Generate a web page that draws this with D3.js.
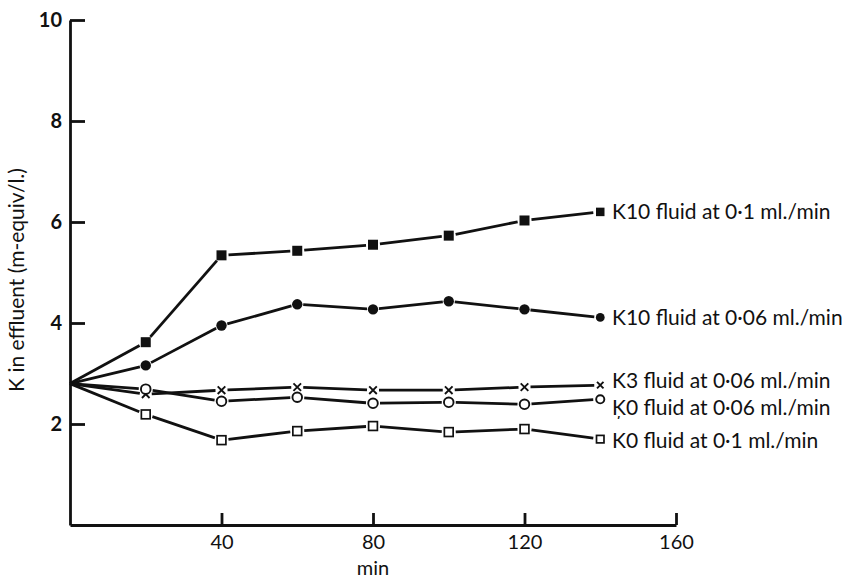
<!DOCTYPE html>
<html><head><meta charset="utf-8">
<script src="https://cdn.jsdelivr.net/npm/d3@7"></script>
<style>
body{margin:0;background:#fff;}
svg{display:block;}
text{font-family:Lato,"Open Sans",sans-serif;fill:#111;}
</style></head>
<body>
<svg id="c" width="850" height="579"></svg>
<script>
const times = [0, 20, 40, 60, 80, 100, 120, 140];
const k10Fast = [2.8, 3.62, 5.34, 5.43, 5.55, 5.73, 6.03, 6.2];
const k10Slow = [2.8, 3.16, 3.95, 4.37, 4.27, 4.43, 4.27, 4.11];
const k3Slow  = [2.8, 2.59, 2.67, 2.73, 2.67, 2.67, 2.73, 2.77];
const k0Slow  = [2.8, 2.69, 2.45, 2.53, 2.41, 2.43, 2.39, 2.49];
const k0Fast  = [2.8, 2.19, 1.68, 1.86, 1.96, 1.84, 1.90, 1.70];
const seriesNames = ["K10 fluid at 0·1 ml./min","K10 fluid at 0·06 ml./min","K3 fluid at 0·06 ml./min","K̦0 fluid at 0·06 ml./min","K0 fluid at 0·1 ml./min"];
const xTicks = [40, 80, 120, 160];
const yTicks = [2, 4, 6, 8, 10];

const series = [
  {name: seriesNames[0], values: k10Fast, marker: "fsquare", labelDy: 0},
  {name: seriesNames[1], values: k10Slow, marker: "fcircle", labelDy: 0},
  {name: seriesNames[2], values: k3Slow,  marker: "cross",   labelDy: -4},
  {name: seriesNames[3], values: k0Slow,  marker: "ocircle", labelDy: 8},
  {name: seriesNames[4], values: k0Fast,  marker: "osquare", labelDy: 1}
];

const svg = d3.select("#c");
const x = d3.scaleLinear().domain([0,160]).range([70,676]);
const y = d3.scaleLinear().domain([0,10]).range([525,20]);

// axes
const gy = svg.append("g").attr("transform","translate(70,0)")
  .call(d3.axisLeft(y).tickValues(yTicks).tickSize(-15).tickSizeOuter(0).tickPadding(8));
gy.selectAll("text").style("font-size","20px").style("font-weight","700").style("font-family","Lato, sans-serif");
const gx = svg.append("g").attr("transform","translate(0,525)")
  .call(d3.axisBottom(x).tickValues(xTicks).tickSize(-12).tickSizeOuter(0).tickPadding(10));
gx.selectAll("text").style("font-size","20px").style("font-family","Lato, sans-serif").attr("dy","0.72em");
[gx, gy].forEach(g=>{
  g.select(".domain").attr("stroke","#111").attr("stroke-width",2.8);
  g.selectAll(".tick line").attr("stroke","#111").attr("stroke-width",2.8);
  g.selectAll("text").attr("fill","#111");
});

svg.append("text").attr("transform","translate(24,280) rotate(-90)")
  .attr("text-anchor","middle").style("font-size","21px").text("K in effluent (m-equiv/l.)");
svg.append("text").attr("x",373).attr("y",575).attr("text-anchor","middle")
  .style("font-size","20px").text("min");

// lines with gaps near markers
const gap = {fsquare:7, fcircle:6, cross:6, ocircle:7, osquare:7};
series.forEach(s=>{
  const pts = times.map((t,i)=>[x(t), y(s.values[i])]);
  const g = svg.append("g");
  for (let i=0;i<pts.length-1;i++){
    const [x1,y1]=pts[i],[x2,y2]=pts[i+1];
    const dx=x2-x1, dy=y2-y1, L=Math.hypot(dx,dy);
    const g1 = i===0 ? 0 : gap[s.marker], g2 = gap[s.marker];
    g.append("line")
      .attr("x1", x1+dx*g1/L).attr("y1", y1+dy*g1/L)
      .attr("x2", x2-dx*g2/L).attr("y2", y2-dy*g2/L)
      .attr("stroke","#111").attr("stroke-width",2.8);
  }
  pts.slice(1).forEach(([px,py],j)=>{
    const last = j===pts.length-2;
    const sc = last ? 0.85 : 1;
    if (s.marker==="fsquare"){
      const h=5*sc; g.append("rect").attr("x",px-h).attr("y",py-h).attr("width",2*h).attr("height",2*h).attr("fill","#111");
    } else if (s.marker==="fcircle"){
      g.append("circle").attr("cx",px).attr("cy",py).attr("r",5.2*sc).attr("fill","#111");
    } else if (s.marker==="ocircle"){
      g.append("circle").attr("cx",px).attr("cy",py).attr("r",4.8*sc).attr("fill","#fff").attr("stroke","#111").attr("stroke-width",1.9);
    } else if (s.marker==="osquare"){
      const h=4.4*sc; g.append("rect").attr("x",px-h).attr("y",py-h).attr("width",2*h).attr("height",2*h).attr("fill","#fff").attr("stroke","#111").attr("stroke-width",1.7);
    } else {
      const h=3.8*sc; g.append("path").attr("d",`M${px-h},${py-h}L${px+h},${py+h}M${px-h},${py+h}L${px+h},${py-h}`).attr("stroke","#111").attr("stroke-width",1.9);
    }
  });
  const lp = pts[pts.length-1];
  svg.append("text").attr("x",612).attr("y",lp[1]+s.labelDy).attr("dy","0.35em")
    .style("font-size","21px").text(s.name);
});
</script>
</body></html>
